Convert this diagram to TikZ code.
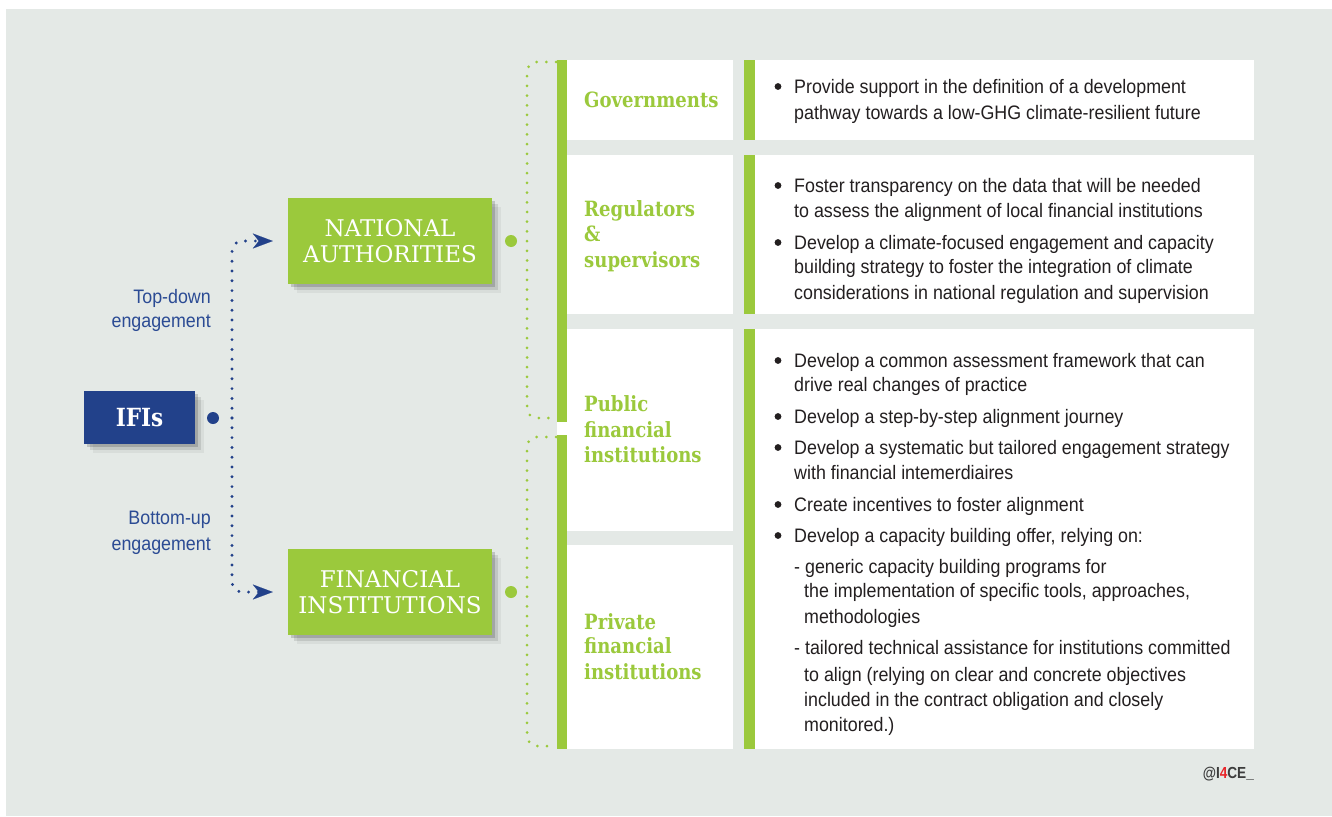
\documentclass[tikz,border=0pt]{standalone}
\usepackage{fontspec}
\setmainfont{Liberation Sans}[FakeStretch=0.915]
\newfontfamily\slab{DejaVu Serif}[FakeStretch=0.86]
\newfontfamily\slabwide{DejaVu Serif}
\newfontfamily\logofont{Liberation Sans}[FakeStretch=0.85]
\usetikzlibrary{shadows,arrows.meta}
\definecolor{bg}{HTML}{E4E9E6}
\definecolor{leaf}{HTML}{9BC93C}
\definecolor{navy}{HTML}{22418A}
\definecolor{bluetxt}{HTML}{2B4B94}
\definecolor{ink}{HTML}{231F20}
\definecolor{logored}{HTML}{E8262A}
\definecolor{logogray}{HTML}{3C3C3C}
\tikzset{
  softshadow/.style={
    drop shadow={shadow xshift=3pt,shadow yshift=-3pt,fill=black,opacity=.16},
    drop shadow={shadow xshift=6pt,shadow yshift=-6pt,fill=black,opacity=.10},
    drop shadow={shadow xshift=9pt,shadow yshift=-9pt,fill=black,opacity=.05}},
  catbox/.style={softshadow,fill=leaf,draw=none,inner sep=0pt,
    minimum width=204pt,minimum height=86pt,text=white,align=center,
    font=\slabwide\fontsize{23}{26}\selectfont},
  ifibox/.style={softshadow,fill=navy,draw=none,inner sep=0pt,
    minimum width=111pt,minimum height=53pt,text=white,
    font=\slab\bfseries\fontsize{25}{28}\selectfont},
  dotnode/.style={circle,inner sep=0pt,minimum size=12pt,draw=none},
  bdots/.style={navy,line width=3.2pt,line cap=round,dash pattern=on 0pt off 9.8pt,rounded corners=10pt},
  gdots/.style={leaf,line width=3pt,line cap=round,dash pattern=on 0pt off 9.7pt,rounded corners=10pt},
  bluetip/.style={-{Stealth[length=20pt,width=15pt,inset=6pt,line width=0.1pt]}},
  cell/.style={fill=white,draw=none},
  lbl/.style={anchor=base west,inner sep=0pt,text=leaf,font=\slab\bfseries\fontsize{21}{24}\selectfont},
  body/.style={anchor=base west,inner sep=0pt,text=ink,font=\fontsize{19.5}{24}\selectfont},
  side/.style={anchor=base east,inner sep=0pt,text=bluetxt,font=\fontsize{19.5}{24}\selectfont},
}
\begin{document}
\begin{tikzpicture}[x=1pt,y=-1pt]
\useasboundingbox (0,0) rectangle (1332,816);
\fill[white] (0,0) rectangle (1332,816);
\fill[bg] (6,9) rectangle (1332,816);

% ---- left column cells
\fill[cell] (557,60) rectangle (733,140);
\fill[cell] (557,155) rectangle (733,314);
\fill[cell] (557,329) rectangle (733,531);
\fill[cell] (557,545) rectangle (733,749);
\fill[leaf] (557,60) rectangle (567,422);
\fill[leaf] (557,435) rectangle (567,749);

% ---- right column cells
\fill[leaf] (744,60) rectangle (755,140);
\fill[cell] (755,60) rectangle (1254,140);
\fill[leaf] (744,155) rectangle (755,314);
\fill[cell] (755,155) rectangle (1254,314);
\fill[leaf] (744,329) rectangle (755,749);
\fill[cell] (755,329) rectangle (1254,749);

% ---- nodes
\node[ifibox] (ifi) at (139.5,417.5) {IFIs};
\node[dotnode,fill=navy] (ifidot) at (213,418) {};
\node[catbox] (na) at (390,241) {NATIONAL\\AUTHORITIES};
\node[catbox] (fi) at (390,592) {FINANCIAL\\INSTITUTIONS};
\node[dotnode,fill=leaf] (nadot) at (511,241) {};
\node[dotnode,fill=leaf] (fidot) at (511,592) {};

% ---- blue connectors
\coordinate (spine) at (232,418);
\draw[bdots,bluetip,shorten >=15pt] (spine) |- (na.west);
\draw[bdots,bluetip,shorten >=15pt] (spine) |- (fi.west);

\node[side] (td1) at (211,303) {Top-down};
\node[side] (td2) at (211,327) {engagement};
\node[side] (bu1) at (211,524) {Bottom-up};
\node[side] (bu2) at (211,550) {engagement};

% ---- green brackets
\coordinate (b1top) at (556,62);
\coordinate (b1bot) at (556,418);
\coordinate (b2top) at (556,437);
\coordinate (b2bot) at (556,746);
\draw[gdots] (b1top) -| (527,240) |- (b1bot);
\draw[gdots] (b2top) -| (527,590) |- (b2bot);

% ---- category labels
\node[lbl] (g1) at (584,107) {Governments};
\node[lbl] (r1) at (584,216) {Regulators};
\node[lbl] (r2) at (584,241) {\&};
\node[lbl] (r3) at (584,267) {supervisors};
\node[lbl] (p1) at (584,411) {Public};
\node[lbl] (p2) at (584,437) {financial};
\node[lbl] (p3) at (584,462) {institutions};
\node[lbl] (q1) at (584,629) {Private};
\node[lbl] (q2) at (584,653) {financial};
\node[lbl] (q3) at (584,679) {institutions};

% ---- bullets
\foreach \y in {93,192,249,367,423,454,511,542}
  \fill[ink] (778,\y-6.5) circle (3.4);

% ---- description lines
\foreach \y/\x/\t [count=\i] in {
  93/794/{Provide support in the definition of a development},
  119/794/{pathway towards a low-GHG climate-resilient future},
  192/794/{Foster transparency on the data that will be needed},
  217/794/{to assess the alignment of local financial institutions},
  249/794/{Develop a climate-focused engagement and capacity},
  273/794/{building strategy to foster the integration of climate},
  299/794/{considerations in national regulation and supervision},
  367/794/{Develop a common assessment framework that can},
  391/794/{drive real changes of practice},
  423/794/{Develop a step-by-step alignment journey},
  454/794/{Develop a systematic but tailored engagement strategy},
  479/794/{with financial intemerdiaires},
  511/794/{Create incentives to foster alignment},
  542/794/{Develop a capacity building offer, relying on:},
  573/794/{- generic capacity building programs for},
  597/804/{the implementation of specific tools, approaches,},
  623/804/{methodologies},
  654/794/{- tailored technical assistance for institutions committed},
  681/804/{to align (relying on clear and concrete objectives},
  706/804/{included in the contract obligation and closely},
  731/804/{monitored.)}}
  \node[body] (line\i) at (\x,\y) {\t};

% ---- logo
\node[anchor=base east,inner sep=0pt,text=logogray,font=\logofont\bfseries\fontsize{16}{18}\selectfont] (logo) at (1254,778) {@I\textcolor{logored}{4}CE\_};
\end{tikzpicture}
\end{document}
